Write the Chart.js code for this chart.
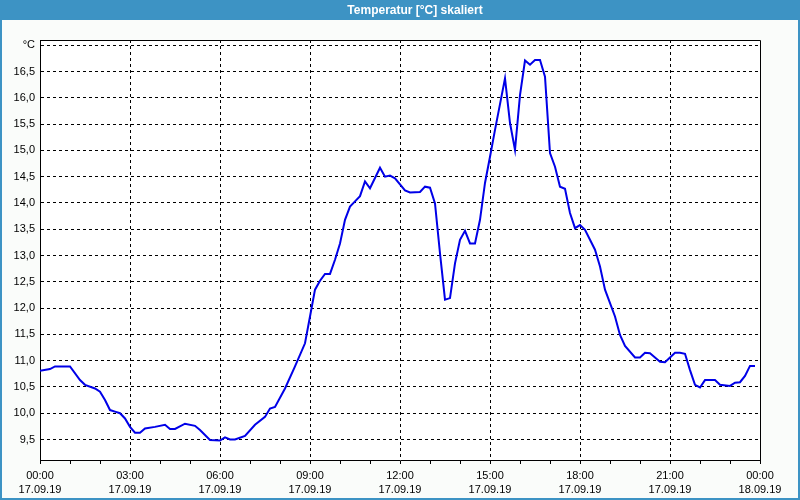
<!DOCTYPE html>
<html>
<head>
<meta charset="utf-8">
<script src="https://cdn.jsdelivr.net/npm/chart.js@4"></script>
<style>
  html, body { margin: 0; padding: 0; background: #fafcfa; }
  #wrap { width: 800px; height: 500px; position: relative; }
</style>
</head>
<body>
<div id="wrap"><canvas id="c" width="800" height="500"></canvas></div>
<script>
// minutes since 17.09.19 00:00
const minutes = [0, 20, 30, 60, 80, 90, 110, 120, 130, 140, 150, 160, 170, 180, 190, 200, 210, 230, 250, 260, 270, 290, 310, 320, 340, 360, 370, 380, 390, 410, 430, 450, 460, 470, 490, 510, 530, 540, 550, 560, 570, 580, 590, 600, 610, 620, 630, 640, 650, 660, 680, 690, 700, 710, 730, 740, 760, 770, 780, 790, 800, 810, 820, 830, 840, 850, 860, 870, 880, 890, 900, 910, 930, 940, 950, 960, 970, 980, 990, 1000, 1010, 1020, 1030, 1040, 1050, 1060, 1070, 1080, 1090, 1100, 1110, 1120, 1130, 1150, 1160, 1170, 1190, 1200, 1210, 1220, 1230, 1240, 1250, 1260, 1270, 1280, 1290, 1300, 1310, 1320, 1330, 1350, 1360, 1380, 1390, 1400, 1410, 1420, 1430];
const temps = [10.81, 10.84, 10.89, 10.89, 10.63, 10.54, 10.47, 10.41, 10.25, 10.06, 10.03, 10.00, 9.90, 9.74, 9.63, 9.63, 9.71, 9.74, 9.78, 9.70, 9.70, 9.80, 9.76, 9.68, 9.49, 9.48, 9.54, 9.50, 9.50, 9.57, 9.78, 9.93, 10.09, 10.12, 10.47, 10.89, 11.33, 11.84, 12.35, 12.52, 12.65, 12.65, 12.92, 13.23, 13.68, 13.93, 14.03, 14.13, 14.41, 14.28, 14.67, 14.50, 14.52, 14.47, 14.24, 14.20, 14.21, 14.31, 14.29, 13.99, 13.04, 12.16, 12.19, 12.85, 13.30, 13.47, 13.23, 13.23, 13.68, 14.38, 14.88, 15.39, 16.37, 15.52, 15.01, 16.05, 16.71, 16.63, 16.72, 16.72, 16.40, 14.95, 14.69, 14.31, 14.27, 13.81, 13.52, 13.58, 13.49, 13.30, 13.11, 12.79, 12.35, 11.84, 11.49, 11.28, 11.06, 11.06, 11.15, 11.14, 11.06, 10.98, 10.97, 11.06, 11.15, 11.15, 11.13, 10.82, 10.54, 10.49, 10.63, 10.63, 10.54, 10.52, 10.58, 10.59, 10.71, 10.90, 10.90];
const xTickTimes = ['00:00', '03:00', '06:00', '09:00', '12:00', '15:00', '18:00', '21:00', '00:00'];
const xTickDates = ['17.09.19', '17.09.19', '17.09.19', '17.09.19', '17.09.19', '17.09.19', '17.09.19', '17.09.19', '18.09.19'];
const yUnitLabel = '°C';
const titleText = 'Temperatur [°C] skaliert';

const points = minutes.map((m, i) => ({ x: m, y: temps[i] }));
const FONT = 'Liberation Sans';

const framePlugin = {
  id: 'frame',
  afterLayout(chart) {
    // the header text sits a little right of centre in the reference
    if (chart.titleBlock) {
      chart.titleBlock.left = 30;
      chart.titleBlock.right = 800;
    }
  },
  beforeDraw(chart) {
    const ctx = chart.ctx;
    ctx.save();
    ctx.fillStyle = '#fafcfa';
    ctx.fillRect(0, 0, 800, 500);
    ctx.fillStyle = '#3d93c4';
    ctx.fillRect(0, 0, 800, 20);
    ctx.strokeStyle = '#3d93c4';
    ctx.lineWidth = 2;
    ctx.beginPath();
    ctx.moveTo(1, 20); ctx.lineTo(1, 499); ctx.lineTo(799, 499); ctx.lineTo(799, 20);
    ctx.stroke();
    ctx.fillStyle = '#ffffff';
    ctx.fillRect(chart.chartArea.left, chart.chartArea.top, chart.chartArea.width, chart.chartArea.height);
    ctx.restore();
  },
  afterDatasetsDraw(chart) {
    const a = chart.chartArea;
    const ctx = chart.ctx;
    ctx.save();
    ctx.strokeStyle = '#000';
    ctx.lineWidth = 1;
    ctx.beginPath();
    ctx.moveTo(Math.round(a.left) + 0.5, Math.round(a.top) + 0.5);
    ctx.lineTo(Math.round(a.right) + 0.5, Math.round(a.top) + 0.5);
    ctx.lineTo(Math.round(a.right) + 0.5, Math.round(a.bottom) + 0.5);
    ctx.stroke();
    ctx.restore();
  }
};

new Chart(document.getElementById('c'), {
  type: 'line',
  data: {
    datasets: [{
      data: points,
      borderColor: '#0000e8',
      borderWidth: 2,
      pointRadius: 0,
      tension: 0,
      fill: false
    }]
  },
  options: {
    responsive: false,
    animation: false,
    devicePixelRatio: 1,
    layout: { padding: { left: 0, right: 0, top: 0, bottom: 0 } },
    plugins: {
      legend: { display: false },
      tooltip: { enabled: false },
      title: {
        display: true,
        text: titleText,
        color: '#ffffff',
        font: { family: FONT, size: 12, weight: 'bold', lineHeight: 1.2 },
        padding: { top: 3, bottom: 22.6 }
      }
    },
    scales: {
      x: {
        type: 'linear',
        min: 0,
        max: 1440,
        afterFit(s) { s.height = 40; },
        border: { color: '#000', width: 1, dash: [3, 3] },
        grid: {
          color: (c) => (c.tick && c.tick.value % 180 === 0 && c.tick.value !== 0 && c.tick.value !== 1440) ? '#000' : 'rgba(0,0,0,0)',
          tickColor: '#000',
          tickLength: 4,
          lineWidth: 1
        },
        ticks: {
          stepSize: 60,
          autoSkip: false,
          maxRotation: 0,
          minRotation: 0,
          padding: 5,
          color: '#000',
          font: { family: FONT, size: 11, lineHeight: 1.3 },
          callback: (v) => {
            if (v % 180 !== 0) return '';
            const i = v / 180;
            return [xTickTimes[i], xTickDates[i]];
          }
        }
      },
      y: {
        type: 'linear',
        min: 9.11,
        max: 17.1,
        afterFit(s) { s.width = 40; },
        border: { color: '#000', width: 1, dash: [3, 3] },
        grid: {
          color: '#000',
          lineWidth: 1,
          drawTicks: false
        },
        ticks: {
          stepSize: 0.5,
          includeBounds: false,
          padding: 5,
          color: '#000',
          font: { family: FONT, size: 11 },
          callback: (v) => Math.abs(v - 17) < 1e-6 ? yUnitLabel : v.toFixed(1).replace('.', ',')
        }
      },
      y2: {
        type: 'linear',
        position: 'right',
        min: 9.11,
        max: 17.1,
        afterFit(s) { s.width = 40; },
        border: { display: false },
        grid: { display: false, drawOnChartArea: false },
        ticks: { display: false }
      }
    }
  },
  plugins: [framePlugin]
});
</script>
</body>
</html>
